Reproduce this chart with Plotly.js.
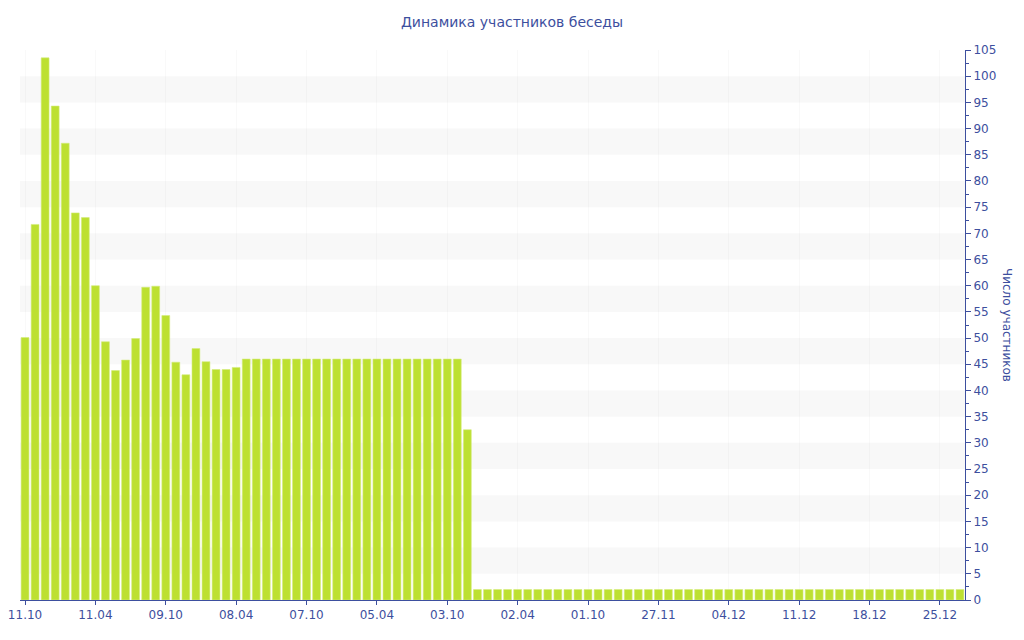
<!DOCTYPE html>
<html>
<head>
<meta charset="utf-8">
<script src="https://cdn.plot.ly/plotly-3.0.1.min.js"></script>
<style>html,body{margin:0;padding:0;background:#fff;}#chart{width:1024px;height:640px;}</style>
</head>
<body>
<div id="chart"></div>
<script>
var chartTitle = "Динамика участников беседы";
var yTitle = "Число участников";
var values = [
  50.1, 71.7, 103.5, 94.3, 87.2, 73.9, 73.0, 60.0, 49.3, 43.8, 45.8, 49.9, 59.7, 59.9, 54.3,
  45.4, 43.0, 48.0, 45.5, 44.0, 44.0, 44.4,
  46, 46, 46, 46, 46, 46, 46, 46, 46, 46, 46, 46, 46, 46, 46, 46, 46, 46, 46, 46, 46, 46,
  32.5,
  2, 2, 2, 2, 2, 2, 2, 2, 2, 2, 2, 2, 2, 2, 2, 2, 2, 2, 2, 2, 2, 2, 2, 2, 2,
  2, 2, 2, 2, 2, 2, 2, 2, 2, 2, 2, 2, 2, 2, 2, 2, 2, 2, 2, 2, 2, 2, 2, 2
];
var tickLabels = ["11.10", "11.04", "09.10", "08.04", "07.10", "05.04", "03.10",
                  "02.04", "01.10", "27.11", "04.12", "11.12", "18.12", "25.12"];
var tickEvery = 7;
var bandEdges = [5, 15, 25, 35, 45, 55, 65, 75, 85, 95];

var xs = values.map(function (v, i) { return i; });
var tickVals = tickLabels.map(function (t, i) { return i * tickEvery; });

var blue = "#3d4f9e";
var shapes = bandEdges.map(function (b) {
  return {type: "rect", xref: "paper", yref: "y", x0: 0, x1: 1, y0: b, y1: b + 5,
          fillcolor: "#f8f8f8", line: {width: 0}, layer: "below"};
});

var trace = {
  type: "bar",
  x: xs,
  y: values,
  marker: {color: "#bde031", line: {color: "#d3ec7a", width: 0.6}},
  width: 0.78,
  hoverinfo: "y"
};

var layout = {
  width: 1024, height: 640,
  margin: {l: 20, r: 59, t: 50, b: 40},
  paper_bgcolor: "#ffffff",
  plot_bgcolor: "#ffffff",
  font: {family: "DejaVu Sans, Verdana, sans-serif", color: blue, size: 12},
  title: {text: chartTitle, x: 0.5, xanchor: "center", y: 0.965, yanchor: "middle",
          font: {size: 14, color: blue, family: "DejaVu Sans, Verdana, sans-serif"}},
  showlegend: false,
  bargap: 0.2,
  xaxis: {
    range: [-0.5, values.length - 0.5],
    tickmode: "array", tickvals: tickVals, ticktext: tickLabels,
    ticks: "outside", ticklen: 4, tickcolor: blue,
    showline: true, linecolor: blue, linewidth: 1,
    showgrid: true, gridcolor: "rgba(0,0,0,0.025)",
    zeroline: false, fixedrange: true,
    tickfont: {size: 12, color: blue}
  },
  yaxis: {
    side: "right",
    range: [0, 105],
    tick0: 0, dtick: 5,
    ticks: "outside", ticklen: 5, tickcolor: blue,
    minor: {dtick: 2.5, ticks: "outside", ticklen: 3, tickcolor: blue, showgrid: false},
    showline: true, linecolor: blue, linewidth: 1,
    showgrid: false, zeroline: false, fixedrange: true,
    tickfont: {size: 12, color: blue}
  },
  shapes: shapes,
  annotations: [{
    text: yTitle, xref: "paper", yref: "paper", x: 1, xshift: 42, y: 0.5,
    xanchor: "center", yanchor: "middle", textangle: 90, showarrow: false,
    font: {size: 12, color: blue}
  }]
};

Plotly.newPlot("chart", [trace], layout, {displayModeBar: false, staticPlot: true});
</script>
</body>
</html>
